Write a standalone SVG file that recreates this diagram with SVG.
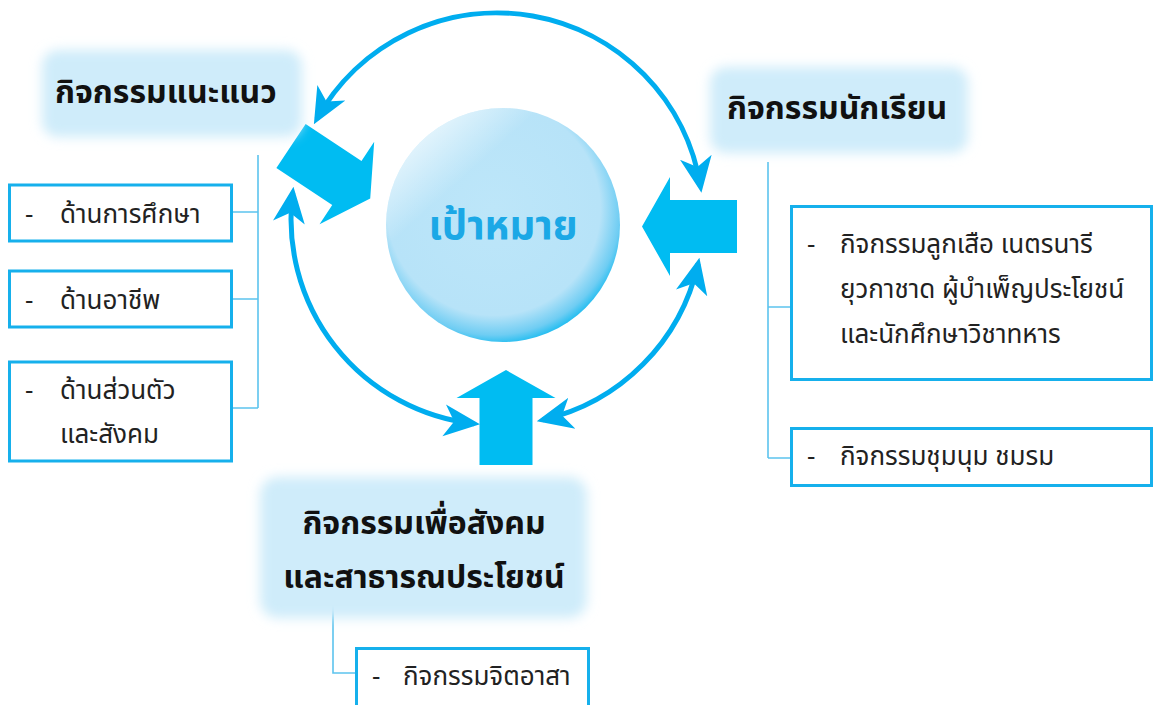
<svg xmlns="http://www.w3.org/2000/svg" width="1156" height="705" viewBox="0 0 1156 705">
<style>
.title{font-family:"Noto Sans Thai","Noto Sans Thai UI",Tahoma,"Leelawadee UI",Garuda,Loma,sans-serif;font-weight:bold;font-size:32px;fill:#111}
.body{font-family:"Noto Sans Thai","Noto Sans Thai UI",Tahoma,"Leelawadee UI",Garuda,Loma,sans-serif;font-size:26px;fill:#222}
.box{fill:#fff;stroke:#16B0EC;stroke-width:3}
.conn{fill:none;stroke:#5CC4EE;stroke-width:1.6}
.ring{fill:none;stroke:#00ADEF;stroke-width:5}
.block{fill:#00BCF2}
.tbox{fill:#CFECFA;filter:url(#soft)}
</style>
<defs>
<filter id="soft" x="-20%" y="-30%" width="140%" height="160%"><feGaussianBlur stdDeviation="6"/></filter>
<radialGradient id="ball" cx="0.46" cy="0.43" r="0.6">
<stop offset="0" stop-color="#BDE6F9"/>
<stop offset="0.76" stop-color="#B7E3F8"/>
<stop offset="0.9" stop-color="#6FCDF3"/>
<stop offset="1" stop-color="#00B6EF"/>
</radialGradient>
<linearGradient id="hl" x1="0.15" y1="0.1" x2="0.6" y2="0.6">
<stop offset="0" stop-color="#fff" stop-opacity="0.65"/>
<stop offset="0.4" stop-color="#fff" stop-opacity="0"/>
</linearGradient>
<marker id="head" viewBox="0 0 36 36" markerWidth="36" markerHeight="36" refX="30" refY="18" markerUnits="userSpaceOnUse" orient="auto-start-reverse">
<path d="M36,18 L0,2 L10,18 L0,34 Z" fill="#00ADEF"/>
</marker>
<path id="blk" d="M0,-26.5 H67 V-49.5 L95,0 L67,49.5 V26.5 H0 Z"/>
</defs>

<g id="connectors">
<path class="ring" d="M316.8,119.1 A206,206 0 0 1 700.5,186.8" marker-start="url(#head)" marker-end="url(#head)"/>
<path class="ring" d="M698.1,263.6 A206,206 0 0 1 542.6,419.9" marker-start="url(#head)" marker-end="url(#head)"/>
<path class="ring" d="M292.7,192.8 A206,206 0 0 0 474.0,423.7" marker-start="url(#head)" marker-end="url(#head)"/>
<use href="#blk" class="block" transform="translate(291,146) rotate(33.5)"/>
<use href="#blk" class="block" transform="translate(737,226.5) rotate(180)"/>
<use href="#blk" class="block" transform="translate(506,465) rotate(-90)"/>
<path class="conn" d="M258,155 V408 M232,212 H258 M232,299 H258 M232,408 H258"/>
<path class="conn" d="M768,162 V458 M768,307 H790 M768,458 H790"/>
<path class="conn" d="M333,603 V673 H355"/>
</g>

<g id="goal">
<circle cx="503" cy="225" r="117" fill="url(#ball)"/>
<circle cx="503" cy="225" r="117" fill="url(#hl)"/>
<text x="503" y="239" text-anchor="middle" font-family="'Noto Sans Thai',Tahoma,Garuda,Loma,sans-serif" font-weight="bold" font-size="40" fill="#1BA8E6">เป้าหมาย</text>
</g>

<g id="guidance">
<rect class="tbox" x="42" y="50" width="260" height="87" rx="16"/>
<text class="title" x="55" y="103">กิจกรรมแนะแนว</text>
</g>
<g id="guid-edu">
<rect class="box" x="9.5" y="185" width="222" height="56"/>
<text class="body" x="25" y="223">-</text>
<text class="body" x="60" y="223">ด้านการศึกษา</text>
</g>
<g id="guid-career">
<rect class="box" x="9.5" y="271" width="222" height="56"/>
<text class="body" x="25" y="309">-</text>
<text class="body" x="60" y="309">ด้านอาชีพ</text>
</g>
<g id="guid-personal">
<rect class="box" x="9.5" y="362" width="222" height="99"/>
<text class="body" x="25" y="399">-</text>
<text class="body" x="60" y="399">ด้านส่วนตัว</text>
<text class="body" x="60" y="443">และสังคม</text>
</g>

<g id="student">
<rect class="tbox" x="710" y="67" width="258" height="86" rx="16"/>
<text class="title" x="727" y="119">กิจกรรมนักเรียน</text>
</g>
<g id="stud-scout">
<rect class="box" x="791.5" y="206.5" width="360" height="173"/>
<text class="body" x="807" y="253">-</text>
<text class="body" x="840" y="253">กิจกรรมลูกเสือ เนตรนารี</text>
<text class="body" x="840" y="298">ยุวกาชาด ผู้บำเพ็ญประโยชน์</text>
<text class="body" x="840" y="343">และนักศึกษาวิชาทหาร</text>
</g>
<g id="stud-club">
<rect class="box" x="791.5" y="428.5" width="360" height="57"/>
<text class="body" x="807" y="465">-</text>
<text class="body" x="840" y="465">กิจกรรมชุมนุม ชมรม</text>
</g>

<g id="social">
<rect class="tbox" x="260" y="477" width="327" height="141" rx="18"/>
<text class="title" x="424" y="534" text-anchor="middle">กิจกรรมเพื่อสังคม</text>
<text class="title" x="424" y="588" text-anchor="middle">และสาธารณประโยชน์</text>
</g>
<g id="social-volunteer">
<rect class="box" x="356.5" y="648.5" width="232" height="70"/>
<text class="body" x="372" y="685">-</text>
<text class="body" x="403" y="685">กิจกรรมจิตอาสา</text>
</g>
</svg>
